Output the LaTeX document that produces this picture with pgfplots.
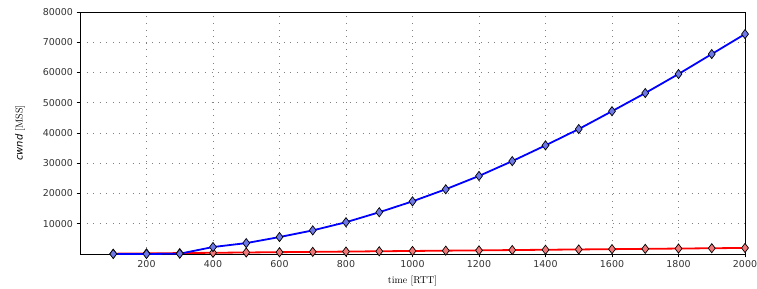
\documentclass[border=0pt]{standalone}
\usepackage{fontspec}
\usepackage{pgfplots}
\pgfplotsset{compat=1.18}
\usetikzlibrary{calc}
\newfontfamily\ticksf{DejaVu Sans}
\definecolor{bluefill}{RGB}{110,120,230}
\definecolor{redfill}{RGB}{240,120,120}
\begin{document}
\begin{tikzpicture}
\begin{axis}[
  scale only axis,
  width=665bp, height=242bp,
  xmin=0, xmax=2000, ymin=0, ymax=80000,
  xtick={200,400,...,2000},
  ytick={10000,20000,...,80000},
  scaled ticks=false,
  /pgf/number format/assume math mode=true,
  /pgf/number format/set thousands separator={},
  tick label style={font=\ticksf\fontsize{9.5}{11}\selectfont, text=black!80},
  xticklabel style={yshift=1pt},
  grid=major,
  major grid style={dash pattern=on 0.8pt off 5.8pt, black!50, line width=0.7pt},
  tick style={black, line width=0.6pt},
  major tick length=3.5pt,
  tick align=outside,
  xtick pos=bottom, ytick pos=left,
  axis line style={black, line width=0.9pt},
  xlabel={time [RTT]},
  ylabel={{\ticksf\itshape cwnd} [MSS]},
  label style={font=\fontsize{10}{11}\selectfont},
  xlabel style={at={(axis description cs:0.5,-0.112)}, anchor=center},
  ylabel style={at={(axis description cs:-0.09,0.5)}, anchor=center},
  every axis plot/.append style={line width=1.8pt},
  clip=false,
]
\addplot[red, mark=diamond*, mark size=4.6pt, mark options={fill=redfill, draw=black, line width=0.7pt}]
coordinates {
(100,100)(200,200)(300,300)(400,400)(500,500)(600,600)(700,700)(800,800)(900,900)(1000,1000)
(1100,1100)(1200,1200)(1300,1300)(1400,1400)(1500,1500)(1600,1600)(1700,1700)(1800,1800)(1900,1900)(2000,2000)};
\addplot[blue, mark=diamond*, mark size=4.6pt, mark options={fill=bluefill, draw=black, line width=0.7pt}]
coordinates {
(100,0)(200,0)(300,100)(400,2300)(500,3600)(600,5600)(700,7800)(800,10500)(900,13800)(1000,17400)
(1100,21400)(1200,25800)(1300,30700)(1400,35900)(1500,41300)(1600,47200)(1700,53200)(1800,59500)(1900,66100)(2000,72700)};
\end{axis}
\pgfresetboundingbox
\path ($(current axis.south west)+(-80bp,-35bp)$) rectangle ($(current axis.north east)+(12bp,12bp)$);
\end{tikzpicture}
\end{document}
